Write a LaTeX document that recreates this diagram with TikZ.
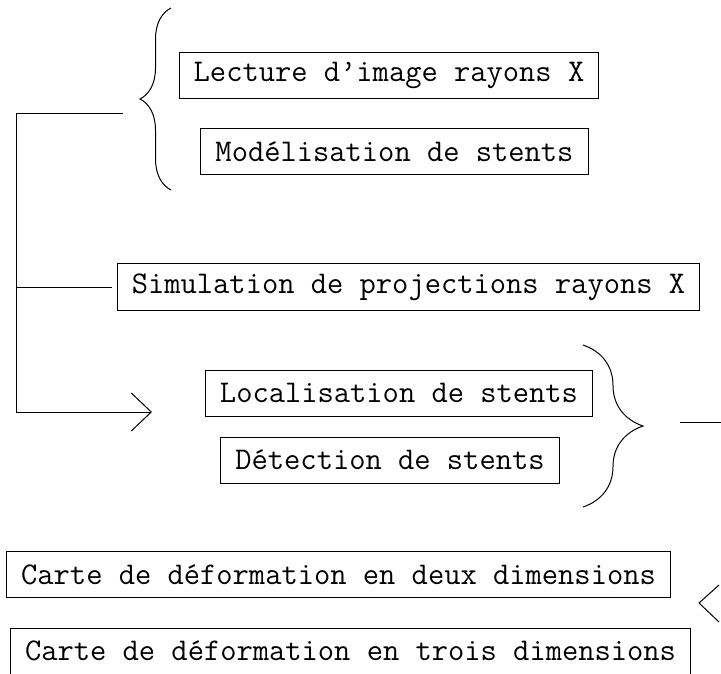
\documentclass[tikz,border=0pt]{standalone}
\usepackage{fontspec}
\usetikzlibrary{arrows.meta,decorations.pathreplacing}
\tikzset{
  etape/.style={draw, font=\ttfamily\fontsize{15.8}{18}\selectfont, minimum height=23pt, inner xsep=7.3pt, inner ysep=0pt},
  accolade/.style={decorate, decoration={brace, amplitude=#1}},
  fleche/.style={-{Straight Barb[length=10pt,width=19pt]}}
}
\begin{document}
\begin{tikzpicture}[x=0.5pt, y=-0.5pt, line width=0.5pt]
    \useasboundingbox (0,0) rectangle (721,673);

    % etapes
    \node[etape] (lecture) at (389,75.5) {Lecture d’image rayons X};
    \node[etape] (model) at (394.5,152) {Modélisation de stents};
    \node[etape] (simul) at (408.5,287) {Simulation de projections rayons X};
    \node[etape] (local) at (399,393) {Localisation de stents};
    \node[etape] (detect) at (390,460) {Détection de stents};
    \node[etape] (carte2d) at (338.5,574.5) {Carte de déformation en deux dimensions};
    \node[etape] (carte3d) at (350.5,651) {Carte de déformation en trois dimensions};

    % accolades
    \draw[accolade=15.5pt] (171,190) -- (171,8);
    \draw[accolade=30pt] (583,345) -- (583,507);

    \coordinate (depart) at (123,114);
    \coordinate (cible) at (152,412);
    \coordinate (sortie) at (680,422);
    \coordinate (bord) at (721,422);
    \coordinate (pointe) at (699,603);

    % liaisons
    \draw[fleche] (depart) -| (16,412) -- (cible);
    \draw (16,287) -- ([xshift=-2.5pt]simul.west);
    \draw (sortie) -- (bord);
    \draw (719,585) -- (pointe) -- (719,622);
\end{tikzpicture}
\end{document}
